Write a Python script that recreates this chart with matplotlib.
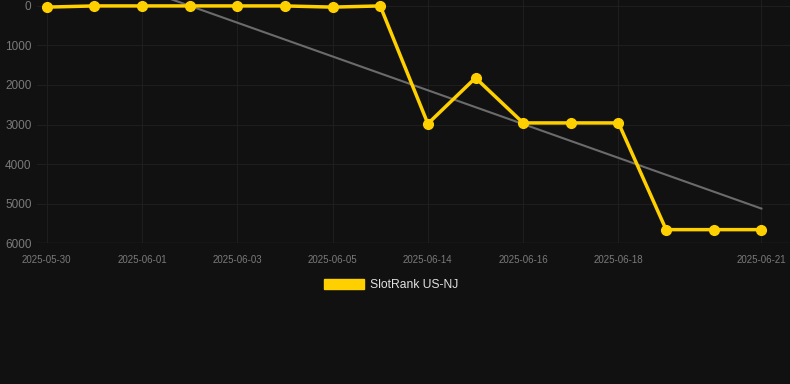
import numpy as np
import matplotlib
matplotlib.use("Agg")
import matplotlib.pyplot as plt
from matplotlib.patches import Patch

# data (rank, lower is better)
dates = ["2025-05-30", "2025-05-31", "2025-06-01", "2025-06-02", "2025-06-03",
         "2025-06-04", "2025-06-05", "2025-06-06", "2025-06-14", "2025-06-15",
         "2025-06-16", "2025-06-17", "2025-06-18", "2025-06-19", "2025-06-20",
         "2025-06-21"]
rank = [30, 0, 0, 0, 0, 0, 30, 0, 2980, 1820, 2960, 2960, 2960, 5660, 5660, 5660]
label_idx = [0, 2, 4, 6, 8, 10, 12, 15]
yticks = [0, 1000, 2000, 3000, 4000, 5000, 6000]

plt.rcParams['font.family'] = ['Liberation Sans', 'DejaVu Sans']
bg = "#111111"

fig = plt.figure(figsize=(7.9, 3.84), dpi=100, facecolor=bg)
ax = fig.add_axes([0.047, 0.367, 0.953, 0.633], facecolor=bg)

x = np.arange(len(dates))
# trend line (least squares)
k, b = np.polyfit(x, rank, 1)
ax.plot(x, k * x + b, color="#6b6b6b", lw=1.5, zorder=2)

ax.plot(x, rank, color="#ffd000", lw=2.5, marker="o", markersize=7, zorder=3)

ax.set_xlim(-0.2, 15.6)
ax.set_ylim(6000, -150)
ax.set_yticks(yticks)
ax.set_xticks([x[i] for i in label_idx])
ax.set_xticklabels([dates[i] for i in label_idx])

ax.grid(True, color="#1e1e1e", lw=0.8)
ax.set_axisbelow(True)
for s in ax.spines.values():
    s.set_visible(False)
ax.tick_params(axis="y", colors="#7a7a7a", labelsize=8.5, length=0, pad=4)
ax.tick_params(axis="x", colors="#7a7a7a", labelsize=7, length=0, pad=8.5)
ax.axhline(6000, color="#262626", lw=1, zorder=1)

leg = fig.legend(handles=[Patch(facecolor="#ffd000", edgecolor="#ffd000", label="SlotRank US-NJ")],
                 loc="center", bbox_to_anchor=(0.495, 0.258), frameon=False,
                 fontsize=8.7, handlelength=3.3, handleheight=0.95, handletextpad=0.5)
for t in leg.get_texts():
    t.set_color("#e0e0e0")

fig.savefig("out.png", dpi=100, facecolor=bg)
